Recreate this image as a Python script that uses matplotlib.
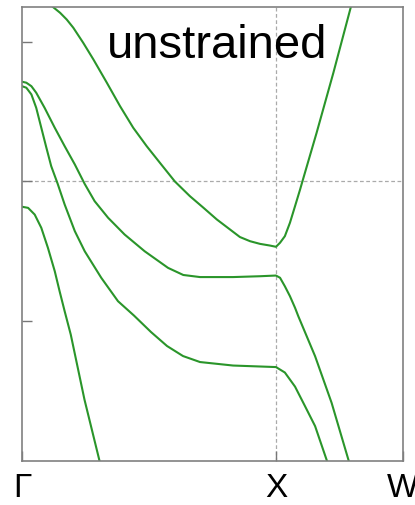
import numpy as np
import matplotlib
matplotlib.use('Agg')
import matplotlib.pyplot as plt

plt.rcParams['font.family'] = ['Liberation Sans', 'DejaVu Sans']

# high symmetry points along the path
kpt_pos = [0.0, 1.0, 1.5]
kpt_lab = ['Γ', 'X', 'W']

# bands (k, E)
k1 = [0.079, 0.121, 0.150, 0.176, 0.202, 0.241, 0.281, 0.334, 0.386, 0.438, 0.491,
      0.543, 0.602, 0.661, 0.713, 0.767, 0.858, 0.898, 0.937, 0.976, 1.000, 1.016,
      1.035, 1.055, 1.075, 1.095, 1.104, 1.160, 1.226, 1.295, 1.311]
e1 = [1.333, 1.252, 1.209, 1.161, 1.102, 0.994, 0.875, 0.708, 0.540, 0.385, 0.253,
      0.134, 0.000, -0.105, -0.186, -0.272, -0.398, -0.428, -0.447, -0.459, -0.468, -0.439,
      -0.392, -0.296, -0.177, -0.057, 0.000, 0.349, 0.779, 1.252, 1.348]

k2 = [0.0, 0.017, 0.037, 0.056, 0.089, 0.129, 0.168, 0.208, 0.247, 0.286, 0.339,
      0.404, 0.483, 0.575, 0.635, 0.701, 0.831, 0.937, 1.000, 1.016, 1.035, 1.055,
      1.075, 1.088, 1.154, 1.219, 1.285, 1.297]
e2 = [0.715, 0.708, 0.683, 0.636, 0.528, 0.385, 0.253, 0.122, -0.018, -0.141, -0.260,
      -0.380, -0.500, -0.619, -0.670, -0.685, -0.685, -0.679, -0.674, -0.690, -0.751, -0.822,
      -0.905, -0.966, -1.252, -1.586, -1.993, -2.065]

k3 = [0.0, 0.017, 0.037, 0.056, 0.076, 0.096, 0.115, 0.140, 0.168, 0.208, 0.247,
      0.312, 0.378, 0.441, 0.508, 0.571, 0.634, 0.701, 0.831, 1.000, 1.035, 1.075,
      1.114, 1.154, 1.199, 1.213]
e3 = [0.683, 0.672, 0.624, 0.528, 0.385, 0.242, 0.110, -0.014, -0.165, -0.356, -0.500,
      -0.690, -0.858, -0.961, -1.079, -1.179, -1.251, -1.294, -1.319, -1.330, -1.369, -1.470,
      -1.609, -1.753, -1.993, -2.065]

k4 = [0.0, 0.024, 0.050, 0.076, 0.102, 0.129, 0.148, 0.168, 0.192, 0.246, 0.304, 0.313]
e4 = [-0.181, -0.189, -0.237, -0.332, -0.475, -0.643, -0.786, -0.930, -1.097, -1.563,
      -1.993, -2.065]

bands = [(k1, e1), (k2, e2), (k3, e3), (k4, e4)]

fig = plt.figure(figsize=(4.15, 5.05), dpi=100)
ax = fig.add_axes([0.053, 0.088, 0.918, 0.898])

# guide lines
ax.axhline(0, color='#aaaaaa', lw=0.9, ls=(0, (3, 2)), zorder=1)
ax.axvline(1.0, color='#aaaaaa', lw=0.9, ls=(0, (3, 2)), zorder=1)

for k, e in bands:
    ax.plot(k, e, color='#2a952a', lw=1.5, zorder=2, solid_joinstyle='round')

ax.set_xlim(0, 1.5)
ax.set_ylim(-2, 1.25)

ax.set_xticks(kpt_pos)
ax.set_xticklabels(kpt_lab, fontsize=24)
ax.set_yticks([-1, 0, 1])
ax.set_yticklabels([])
ax.tick_params(axis='both', direction='in', length=7, width=1.0, color='#777777')
ax.tick_params(axis='x', pad=9)
for sp in ax.spines.values():
    sp.set_color('#808080')
    sp.set_linewidth(1.2)

ax.text(0.512, 0.8875, 'unstrained', transform=ax.transAxes, fontsize=34,
        ha='center', va='baseline')

fig.savefig('out.png', dpi=100)
